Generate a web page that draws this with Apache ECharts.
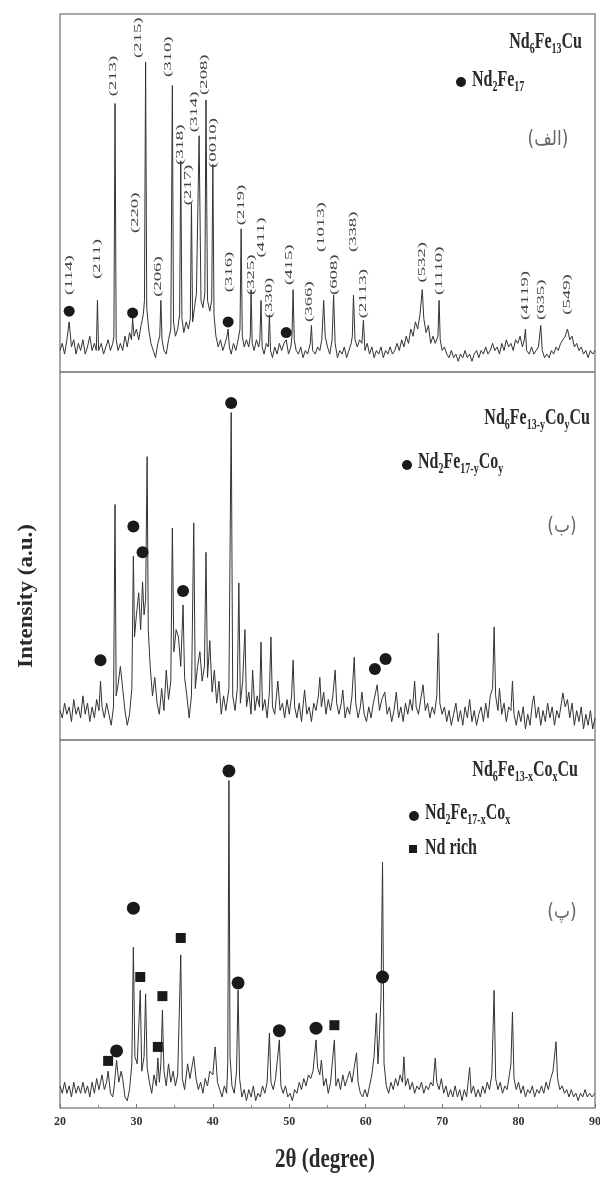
<!DOCTYPE html>
<html>
<head>
<meta charset="utf-8">
<script src="https://cdn.jsdelivr.net/npm/echarts@6/dist/echarts.min.js"></script>
<style>
  html, body { margin: 0; padding: 0; background: #fff; }
  #chart { width: 600px; height: 1180px; }
</style>
</head>
<body>
<div id="chart"></div>
<script>
// x ticks
const xTicks = [20, 30, 40, 50, 60, 70, 80, 90];

// pattern (a) Nd6Fe13Cu : [2theta, intensity %]
const patternA = [[20.0,6],[20.3,8],[20.6,5],[20.9,9],[21.2,14],[21.5,7],[21.8,9],[22.1,5],[22.4,8],[22.7,6],[23.0,9],[23.3,5],[23.6,7],[23.9,10],[24.2,6],[24.5,8],[24.75,6],[24.9,20],[25.05,6],[25.4,8],[25.7,5],[26.0,7],[26.3,9],[26.6,6],[26.9,8],[27.05,10],[27.2,75],[27.35,9],[27.6,6],[27.9,8],[28.2,6],[28.5,10],[28.8,7],[29.1,11],[29.35,9],[29.5,15],[29.7,10],[30.0,12],[30.3,9],[30.6,13],[30.9,16],[31.05,20],[31.2,86.6],[31.35,18],[31.6,12],[31.9,8],[32.2,6],[32.5,4],[32.8,8],[33.05,10],[33.2,20],[33.35,9],[33.6,6],[33.9,5],[34.2,9],[34.5,12],[34.7,80],[34.85,14],[35.1,10],[35.4,12],[35.65,16],[35.8,59],[35.95,15],[36.2,11],[36.5,14],[36.8,12],[37.05,15],[37.2,47],[37.35,14],[37.6,18],[37.85,22],[38.2,66],[38.45,20],[38.7,18],[38.95,22],[39.1,76],[39.3,20],[39.6,17],[39.85,20],[40.0,58],[40.15,16],[40.4,10],[40.7,7],[41.0,9],[41.3,6],[41.6,8],[41.85,10],[42.0,12],[42.15,7],[42.4,5],[42.7,8],[43.0,6],[43.3,9],[43.55,12],[43.7,40],[43.85,10],[44.1,7],[44.4,9],[44.7,7],[44.9,10],[45.0,23],[45.15,8],[45.4,6],[45.7,9],[46.0,7],[46.15,9],[46.3,20],[46.45,7],[46.7,5],[47.0,8],[47.25,7],[47.4,16],[47.55,6],[47.8,4],[48.1,7],[48.4,5],[48.7,8],[49.0,6],[49.3,8],[49.6,9],[49.9,5],[50.2,7],[50.35,10],[50.5,23],[50.65,9],[50.9,6],[51.2,5],[51.5,7],[51.8,4],[52.1,6],[52.4,5],[52.75,8],[52.9,13],[53.05,6],[53.4,5],[53.7,7],[54.0,6],[54.25,9],[54.5,20],[54.7,10],[55.0,7],[55.3,5],[55.6,9],[55.8,21.5],[56.0,8],[56.3,4],[56.6,6],[56.9,5],[57.2,7],[57.5,4],[57.8,6],[58.1,8],[58.25,10],[58.4,21.5],[58.6,9],[58.9,7],[59.2,9],[59.5,8],[59.7,14.5],[59.9,6],[60.2,8],[60.5,5],[60.8,7],[61.1,4],[61.4,6],[61.7,5],[62.0,7],[62.3,4],[62.6,6],[62.9,5],[63.2,7],[63.5,5],[63.8,6],[64.1,8],[64.4,6],[64.7,9],[65.0,7],[65.3,10],[65.6,8],[65.9,12],[66.2,10],[66.5,14],[66.8,12],[67.1,16],[67.4,23],[67.6,15],[67.9,11],[68.2,13],[68.5,8],[68.8,10],[69.1,8],[69.45,10],[69.6,20],[69.75,9],[70.0,6],[70.3,7],[70.6,5],[70.9,4],[71.2,6],[71.5,4],[71.8,5],[72.1,3],[72.4,5],[72.7,4],[73.0,6],[73.3,4],[73.6,5],[73.9,3],[74.2,5],[74.5,6],[74.8,4],[75.1,6],[75.4,5],[75.7,7],[76.0,5],[76.3,6],[76.6,8],[76.9,6],[77.2,7],[77.5,5],[77.8,8],[78.1,6],[78.4,9],[78.7,7],[79.0,8],[79.3,6],[79.6,9],[79.9,8],[80.2,10],[80.5,7],[80.75,9],[80.9,12],[81.05,6],[81.4,5],[81.7,7],[82.0,5],[82.3,6],[82.6,7],[82.9,13],[83.1,6],[83.4,4],[83.7,5],[84.0,4],[84.3,6],[84.6,5],[84.9,7],[85.2,6],[85.5,8],[85.8,9],[86.1,10],[86.4,12],[86.7,9],[87.0,10],[87.3,7],[87.6,8],[87.9,6],[88.2,7],[88.5,5],[88.8,6],[89.1,4],[89.4,6],[89.7,5],[90.0,6]];

// pattern (b) Nd6Fe13-yCoyCu
const patternB = [[20.0,8],[20.3,6],[20.6,10],[20.9,7],[21.2,9],[21.5,5],[21.8,11],[22.1,7],[22.4,9],[22.7,6],[23.0,12],[23.3,7],[23.6,10],[23.9,5],[24.2,9],[24.5,6],[24.8,11],[25.1,8],[25.3,16],[25.5,9],[25.8,6],[26.1,10],[26.4,7],[26.7,4],[27.0,9],[27.2,64],[27.35,12],[27.6,15],[27.9,20],[28.2,14],[28.5,8],[28.8,4],[29.1,7],[29.4,14],[29.6,50],[29.75,28],[30.0,34],[30.3,40],[30.55,30],[30.8,43],[31.0,34],[31.2,38],[31.4,77],[31.55,30],[31.8,20],[32.1,12],[32.4,17],[32.7,10],[33.0,7],[33.3,14],[33.6,8],[33.9,19],[34.2,11],[34.5,16],[34.7,57.6],[34.9,24],[35.2,30],[35.5,28],[35.8,20],[36.1,36.7],[36.3,17],[36.6,12],[36.9,6],[37.2,12],[37.5,59],[37.7,14],[38.0,20],[38.3,24],[38.6,16],[38.9,20],[39.1,51],[39.3,17],[39.6,27],[39.9,13],[40.2,19],[40.5,10],[40.8,16],[41.1,7],[41.4,12],[41.7,8],[42.1,14],[42.4,89],[42.6,12],[42.9,8],[43.2,14],[43.4,42.7],[43.6,10],[43.9,16],[44.2,30],[44.4,9],[44.7,13],[45.0,7],[45.2,19],[45.5,8],[45.8,12],[46.1,9],[46.3,26.6],[46.5,8],[46.8,11],[47.1,6],[47.4,13],[47.6,28],[47.8,9],[48.1,7],[48.5,16],[48.8,8],[49.1,10],[49.4,6],[49.7,11],[50.0,7],[50.3,12],[50.5,21.7],[50.7,9],[51.0,6],[51.3,10],[51.6,5],[52.0,13.6],[52.3,7],[52.6,9],[52.9,5],[53.2,10],[53.5,8],[53.8,12],[54.0,17],[54.2,9],[54.5,13],[54.8,7],[55.1,11],[55.4,8],[55.7,12],[56.0,19],[56.2,10],[56.5,7],[56.8,10],[57.0,13.6],[57.3,6],[57.6,9],[57.9,7],[58.2,12],[58.5,22.5],[58.7,10],[59.0,6],[59.3,9],[59.5,13],[59.8,7],[60.1,5],[60.4,9],[60.7,6],[61.0,10],[61.5,15],[61.8,8],[62.1,11],[62.5,13],[62.8,7],[63.1,9],[63.4,5],[63.7,8],[64.0,13],[64.3,6],[64.6,9],[64.9,5],[65.2,10],[65.5,7],[65.8,11],[66.1,8],[66.4,16],[66.6,9],[66.9,7],[67.2,11],[67.5,15],[67.8,8],[68.1,10],[68.4,6],[68.7,9],[69.0,7],[69.3,12],[69.5,29],[69.7,10],[70.0,7],[70.3,9],[70.6,5],[70.9,8],[71.2,4],[71.5,7],[71.8,10],[72.1,5],[72.4,8],[72.7,4],[73.0,9],[73.3,6],[73.6,11],[73.9,5],[74.2,8],[74.5,4],[74.8,7],[75.1,9],[75.4,5],[75.7,10],[76.0,6],[76.3,12],[76.6,14],[76.8,30.7],[77.0,12],[77.3,8],[77.5,14],[77.8,7],[78.1,10],[78.4,5],[78.7,9],[79.0,8],[79.2,16],[79.4,7],[79.7,4],[80.0,8],[80.3,5],[80.6,9],[80.9,3],[81.2,7],[81.5,4],[81.8,10],[82.0,12],[82.3,6],[82.6,9],[82.9,4],[83.2,8],[83.5,5],[83.8,10],[84.1,6],[84.4,9],[84.7,4],[85.0,8],[85.3,6],[85.6,10],[85.8,12.8],[86.1,9],[86.4,11],[86.7,6],[87.0,10],[87.3,4],[87.6,8],[87.9,5],[88.2,9],[88.5,3],[88.8,7],[89.1,4],[89.4,8],[89.7,3],[90.0,6]];

// pattern (c) Nd6Fe13-xCoxCu
const patternC = [[20.0,6],[20.3,4],[20.6,7],[20.9,4],[21.2,6],[21.5,3],[21.8,7],[22.1,4],[22.4,6],[22.7,4],[23.0,7],[23.3,4],[23.6,6],[23.9,3],[24.2,7],[24.5,4],[24.8,8],[25.1,5],[25.5,9],[25.8,5],[26.1,7],[26.3,10],[26.6,4],[26.9,3],[27.1,6],[27.4,13],[27.7,7],[28.0,10],[28.2,8],[28.5,3],[28.8,2],[29.1,5],[29.4,12],[29.6,43.7],[29.8,14],[30.1,12],[30.5,32],[30.7,10],[31.0,14],[31.2,31],[31.4,11],[31.7,7],[32.0,4],[32.3,9],[32.6,6],[32.8,13.6],[33.0,7],[33.2,12],[33.4,26.6],[33.6,10],[33.9,6],[34.2,12],[34.5,7],[34.8,10],[35.1,6],[35.4,9],[35.8,41.6],[36.0,8],[36.3,5],[36.7,12],[37.0,8],[37.5,14],[37.8,8],[38.1,5],[38.4,7],[38.7,4],[39.0,8],[39.3,6],[39.6,10],[40.0,9],[40.3,16.6],[40.6,7],[40.9,5],[41.2,3],[41.5,6],[41.8,4],[41.95,12],[42.1,89],[42.25,14],[42.5,6],[42.8,4],[43.1,10],[43.3,32],[43.5,8],[43.8,3],[44.1,5],[44.4,2],[44.7,5],[45.0,3],[45.3,6],[45.6,2],[45.9,4],[46.2,3],[46.5,6],[46.8,4],[47.1,7],[47.4,20.4],[47.6,7],[47.9,5],[48.2,8],[48.7,18.5],[48.9,6],[49.2,4],[49.5,6],[49.8,3],[50.1,4],[50.4,2],[50.7,5],[51.0,4],[51.3,7],[51.6,5],[51.9,8],[52.2,6],[52.5,9],[52.8,8],[53.1,10],[53.5,18.5],[53.7,11],[54.0,9],[54.2,13],[54.5,6],[54.8,8],[55.1,4],[55.4,7],[55.9,18.5],[56.1,6],[56.4,8],[56.7,5],[57.0,9],[57.3,6],[57.6,8],[57.9,10],[58.2,7],[58.5,11],[58.8,15],[59.0,7],[59.3,4],[59.6,3],[59.9,5],[60.2,3],[60.5,6],[60.8,9],[61.1,14],[61.4,25.8],[61.6,12],[61.8,20],[62.0,30],[62.2,66.8],[62.4,12],[62.7,6],[63.0,4],[63.3,7],[63.6,5],[63.9,8],[64.2,6],[64.5,9],[64.8,7],[65.0,13.9],[65.2,6],[65.5,8],[65.8,5],[66.1,7],[66.4,4],[66.7,6],[67.0,5],[67.3,7],[67.6,4],[67.9,6],[68.2,5],[68.5,7],[68.8,6],[69.1,13.6],[69.3,7],[69.6,5],[69.9,8],[70.2,4],[70.5,6],[70.8,3],[71.1,5],[71.4,3],[71.7,6],[72.0,3],[72.3,5],[72.6,2],[72.9,5],[73.2,3],[73.6,11],[73.8,4],[74.1,6],[74.4,3],[74.7,5],[75.0,3],[75.3,6],[75.6,4],[75.9,7],[76.2,5],[76.5,9],[76.8,32],[77.0,8],[77.3,5],[77.6,7],[77.9,4],[78.2,6],[78.5,5],[78.8,9],[79.0,12],[79.2,26],[79.4,8],[79.7,5],[80.0,7],[80.3,4],[80.6,6],[80.9,3],[81.2,5],[81.5,4],[81.8,6],[82.1,3],[82.4,5],[82.7,4],[83.0,6],[83.3,4],[83.6,7],[83.9,5],[84.2,8],[84.5,10],[84.9,18],[85.1,8],[85.4,5],[85.7,6],[86.0,4],[86.3,5],[86.6,3],[86.9,5],[87.2,3],[87.5,4],[87.8,2],[88.1,4],[88.4,3],[88.7,5],[89.0,3],[89.3,4],[89.6,3],[90.0,4]];

// phase markers
const dotsA = [[21.2,17],[29.5,16.5],[42.0,14],[49.6,11]];
const dotsB = [[25.3,21.7],[29.6,58],[30.8,51],[36.1,40.5],[42.4,91.6],[61.2,19.3],[62.6,22]];
const dotsC = [[27.4,15.5],[29.6,54.3],[42.1,91.6],[43.3,34],[48.7,21],[53.5,21.7],[62.2,35.6]];
const squaresC = [[26.3,12.8],[30.5,35.6],[32.8,16.6],[33.4,30.4],[35.8,46.2],[55.9,22.5]];

// hkl labels of pattern (a): [text, 2theta, level where label starts]
const hklA = [
  ['(114)',21.2,21.5],['(211)',24.9,26],['(213)',27.0,77],['(215)',30.2,87.7],
  ['(220)',29.8,38.8],['(206)',32.8,21],['(310)',34.2,82.4],['(318)',35.7,57.8],
  ['(217)',36.8,46.6],['(314)',37.5,67],['(208)',38.8,77.4],['(0010)',40.0,57],
  ['(316)',42.1,22.3],['(219)',43.7,41],['(325)',45.0,21.5],['(411)',46.3,32],
  ['(330)',47.4,15],['(415)',50.0,24.3],['(366)',52.6,14],['(1013)',54.2,33.5],
  ['(608)',55.8,21.5],['(338)',58.4,33.5],['(2113)',59.7,15],['(532)',67.4,25],
  ['(1110)',69.6,21.5],['(4119)',80.9,14.5],['(635)',82.9,14.5],['(549)',86.4,16]
];

const SERIF = '"Liberation Serif", "DejaVu Serif", serif';
const INK = '#2a2a2a';

const chart = echarts.init(document.getElementById('chart'), null, { renderer: 'canvas' });

const grids = [
  { left: 60, right: 5, top: 14, height: 358 },
  { left: 60, right: 5, top: 372, height: 368 },
  { left: 60, right: 5, top: 740, height: 368 }
].map(g => Object.assign(g, {
  show: true, borderColor: '#8a8a8a', borderWidth: 1.5, backgroundColor: 'transparent',
  containLabel: false, outerBoundsMode: 'none'
}));

const xAxes = [0, 1, 2].map(i => ({
  type: 'value', gridIndex: i, min: 20, max: 90, interval: 10,
  show: i === 2,
  axisLine: { show: false },
  splitLine: { show: false },
  axisTick: { show: true, inside: true, length: 4, lineStyle: { color: '#777' } },
  minorTick: { show: true, splitNumber: 2, length: 3, lineStyle: { color: '#888' } },
  axisLabel: {
    show: true, margin: 8, color: '#333', fontFamily: SERIF, fontWeight: 'bold', fontSize: 12,
    formatter: v => (xTicks.includes(v) ? String(v) : '')
  }
}));
const yAxes = [0, 1, 2].map(i => ({ type: 'value', gridIndex: i, min: 0, max: 100, show: false }));

function lineSeries(i, data) {
  return {
    type: 'line', xAxisIndex: i, yAxisIndex: i, data, showSymbol: false, silent: true,
    lineStyle: { color: '#333', width: 1 }, z: 2
  };
}
function markerSeries(i, data, symbol, size) {
  return {
    type: 'scatter', xAxisIndex: i, yAxisIndex: i, data, symbol, symbolSize: size, silent: true,
    itemStyle: { color: '#1a1a1a', opacity: 1 }, z: 4
  };
}

const hklSeries = {
  type: 'custom', xAxisIndex: 0, yAxisIndex: 0, silent: true, z: 5,
  data: hklA.map(d => [d[1], d[2]]),
  renderItem: (params, api) => {
    const p = api.coord([api.value(0), api.value(1)]);
    return {
      type: 'text', x: p[0], y: p[1], rotation: Math.PI / 2, scaleX: 1.7,
      style: {
        text: hklA[params.dataIndex][0], fill: '#444',
        font: '11px ' + SERIF, align: 'left', verticalAlign: 'middle'
      }
    };
  }
};

function formula(text, x, y, align) {
  return {
    type: 'text', x, y, scaleY: 1.4,
    style: {
      text, align: align || 'left', verticalAlign: 'middle',
      rich: {
        n: { fontSize: 16, fontWeight: 'bold', fontFamily: SERIF, fill: INK, lineHeight: 20 },
        s: { fontSize: 10, fontWeight: 'bold', fontFamily: SERIF, fill: INK, lineHeight: 20, verticalAlign: 'bottom', padding: [6, 0, 0, 0] }
      }
    }
  };
}
function tag(text, x, y) {
  return {
    type: 'text', x, y, scaleY: 1.2,
    style: { text, align: 'center', verticalAlign: 'middle', font: '17px "DejaVu Sans", sans-serif', fill: '#666' }
  };
}

const graphic = [
  // panel (a)
  formula('{n|Nd}{s|6}{n|Fe}{s|13}{n|Cu}', 582, 42, 'right'),
  { type: 'circle', shape: { cx: 461, cy: 82, r: 5 }, style: { fill: '#1a1a1a' } },
  formula('{n|Nd}{s|2}{n|Fe}{s|17}', 472, 80),
  tag('(الف)', 548, 140),
  // panel (b)
  formula('{n|Nd}{s|6}{n|Fe}{s|13-y}{n|Co}{s|y}{n|Cu}', 590, 418, 'right'),
  { type: 'circle', shape: { cx: 407, cy: 465, r: 5 }, style: { fill: '#1a1a1a' } },
  formula('{n|Nd}{s|2}{n|Fe}{s|17-y}{n|Co}{s|y}', 418, 462),
  tag('(ب)', 562, 527),
  // panel (c)
  formula('{n|Nd}{s|6}{n|Fe}{s|13-x}{n|Co}{s|x}{n|Cu}', 578, 770, 'right'),
  { type: 'circle', shape: { cx: 414, cy: 816, r: 5 }, style: { fill: '#1a1a1a' } },
  formula('{n|Nd}{s|2}{n|Fe}{s|17-x}{n|Co}{s|x}', 425, 813),
  { type: 'rect', shape: { x: 409, y: 845, width: 8, height: 8 }, style: { fill: '#1a1a1a' } },
  formula('{n|Nd rich}', 425, 848),
  tag('(پ)', 562, 913),
  // axis titles
  {
    type: 'text', x: 27, y: 596, rotation: Math.PI / 2, scaleX: 1.15,
    style: { text: 'Intensity (a.u.)', font: 'bold 20px ' + SERIF, fill: INK, align: 'center', verticalAlign: 'middle' }
  },
  {
    type: 'text', x: 325, y: 1160, scaleY: 1.3,
    style: { text: '2θ (degree)', font: 'bold 21px ' + SERIF, fill: INK, align: 'center', verticalAlign: 'middle' }
  }
];

chart.setOption({
  animation: false,
  backgroundColor: '#fff',
  grid: grids,
  xAxis: xAxes,
  yAxis: yAxes,
  graphic,
  series: [
    lineSeries(0, patternA),
    lineSeries(1, patternB),
    lineSeries(2, patternC),
    markerSeries(0, dotsA, 'circle', 11),
    markerSeries(1, dotsB, 'circle', 12),
    markerSeries(2, dotsC, 'circle', 13),
    markerSeries(2, squaresC, 'rect', 10),
    hklSeries
  ]
});
</script>
</body>
</html>
